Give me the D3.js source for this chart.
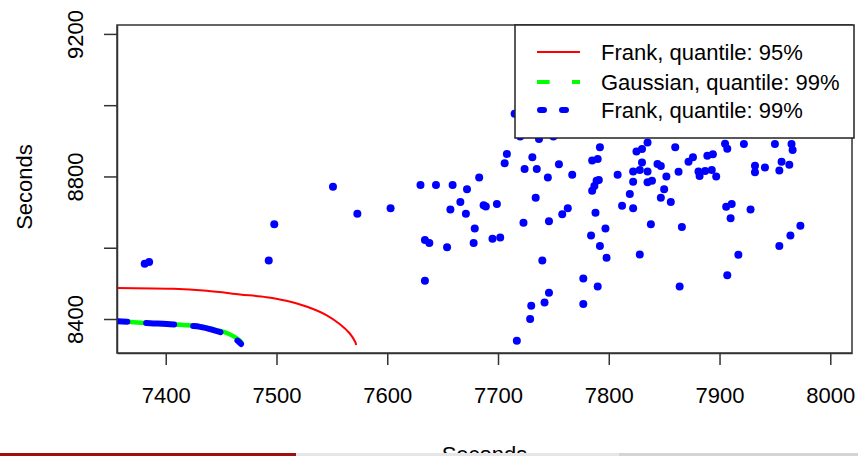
<!DOCTYPE html>
<html>
<head>
<meta charset="utf-8">
<script src="https://cdn.jsdelivr.net/npm/d3@7"></script>
<style>
  html, body { margin: 0; padding: 0; background: #fff; }
  svg { display: block; font-family: "Liberation Sans", Arial, sans-serif; }
</style>
</head>
<body>
<div id="chart"></div>
<script>
// scatter of observed pairs (seconds)
const obsX = [7381, 7385, 7493, 7498, 7551, 7573, 7603, 7630, 7644, 7659, 7672, 7683, 7666, 7657,
  7671, 7679, 7634, 7638, 7654, 7678, 7634, 7706, 7708, 7687, 7689, 7699, 7695, 7702, 7715, 7720,
  7737, 7750, 7731, 7724, 7735, 7745, 7755, 7767, 7792, 7785, 7790, 7789, 7791, 7787, 7785, 7808,
  7734, 7723, 7746, 7758, 7763, 7788, 7784, 7797, 7792, 7798, 7740, 7777, 7790, 7746, 7730, 7742,
  7777, 7729, 7717, 7835, 7825, 7830, 7830, 7822, 7828, 7835, 7822, 7835, 7839, 7844, 7847, 7819,
  7812, 7822, 7847, 7838, 7828, 7860, 7852, 7863, 7872, 7876, 7889, 7894, 7881, 7882, 7887, 7893,
  7897, 7905, 7907, 7922, 7932, 7932, 7941, 7950, 7965, 7966, 7956, 7954, 7963, 7850, 7856, 7866,
  7906, 7911, 7910, 7928, 7973, 7964, 7954, 7917, 7907, 7864];
const obsY = [8555, 8560, 8564, 8666, 8771, 8695, 8711, 8776, 8776, 8776, 8764, 8797, 8728, 8707,
  8695, 8654, 8622, 8613, 8601, 8613, 8507, 8837, 8863, 8719, 8716, 8723, 8625, 8629, 8976, 8912,
  8905, 8912, 8854, 8821, 8821, 8797, 8834, 8805, 8882, 8845, 8849, 8788, 8790, 8773, 8760, 8805,
  8740, 8670, 8674, 8694, 8711, 8698, 8634, 8654, 8605, 8572, 8564, 8514, 8491, 8474, 8437, 8446,
  8442, 8400, 8339, 8895, 8870, 8877, 8839, 8814, 8818, 8814, 8785, 8784, 8788, 8835, 8829, 8751,
  8718, 8711, 8740, 8666, 8581, 8882, 8800, 8813, 8841, 8854, 8858, 8862, 8814, 8801, 8815, 8818,
  8800, 8892, 8878, 8891, 8830, 8812, 8825, 8891, 8891, 8874, 8841, 8817, 8833, 8764, 8728, 8658,
  8715, 8723, 8683, 8707, 8662, 8634, 8605, 8580, 8523, 8491];

// quantile contours
const frank95X = [7340, 7356, 7407, 7437, 7467, 7491, 7509, 7527, 7545, 7557, 7566, 7571, 7572];
const frank95Y = [8488, 8487, 8485, 8479, 8469, 8461, 8451, 8435, 8411, 8386, 8360, 8336, 8327];
const gauss99X = [7340, 7357, 7371, 7386, 7401, 7416, 7431, 7443, 7453, 7461, 7467, 7469];
const gauss99Y = [8396, 8394, 8391, 8388, 8386, 8383, 8379, 8371, 8363, 8352, 8339, 8331];
const frank99X = [7340, 7357, 7371, 7386, 7401, 7416, 7431, 7443, 7452, 7460, 7466, 7468];
const frank99Y = [8396, 8394, 8391, 8388, 8386, 8382, 8378, 8369, 8360, 8349, 8336, 8330];

const xTicks = [7400, 7500, 7600, 7700, 7800, 7900, 8000];
const yTicks = [8400, 8600, 8800, 9000, 9200];
const yLabelled = [8400, 8800, 9200];
const legendLabels = ['Frank, quantile: 95%', 'Gaussian, quantile: 99%', 'Frank, quantile: 99%'];
const axisTitle = 'Seconds';

const W = 858, H = 456;
const plot = { left: 117, right: 852, top: 25, bottom: 353 };
const font = 22;

const svg = d3.select('#chart').append('svg')
  .attr('width', W)
  .attr('height', H)
  .attr('font-size', font);

const x = d3.scaleLinear().domain([7356, 8019.6]).range([plot.left, plot.right]);
const y = d3.scaleLinear().domain([8304.6, 9225]).range([plot.bottom, plot.top]);

svg.append('clipPath').attr('id', 'plot-clip')
  .append('rect')
    .attr('x', plot.left).attr('y', plot.top)
    .attr('width', plot.right - plot.left)
    .attr('height', plot.bottom - plot.top);

// axes
const xAxis = svg.append('g')
  .attr('transform', `translate(0,${plot.bottom})`)
  .call(d3.axisBottom(x).tickValues(xTicks).tickSize(12).tickSizeOuter(0).tickFormat(d3.format('d')));
xAxis.selectAll('text')
  .attr('y', 50).attr('dy', 0)
  .attr('fill', '#000')
  .attr('font-size', font);

const yAxis = svg.append('g')
  .attr('transform', `translate(${plot.left},0)`)
  .call(d3.axisLeft(y).tickValues(yTicks).tickSize(13).tickSizeOuter(0)
    .tickFormat(d => yLabelled.includes(d) ? d3.format('d')(d) : ''));
yAxis.selectAll('text')
  .attr('x', 0).attr('dy', 0)
  .attr('text-anchor', 'middle')
  .attr('transform', 'translate(-34,0) rotate(-90)')
  .attr('fill', '#000')
  .attr('font-size', font);

svg.selectAll('.domain, .tick line').attr('stroke', '#333').attr('stroke-width', 1.5);

svg.append('text')
  .attr('transform', `translate(32,187) rotate(-90)`)
  .attr('text-anchor', 'middle')
  .text(axisTitle);

svg.append('text')
  .attr('x', (plot.left + plot.right) / 2)
  .attr('y', 462)
  .attr('text-anchor', 'middle')
  .text(axisTitle);

// marks
const marks = svg.append('g').attr('clip-path', 'url(#plot-clip)');
const line = d3.line().x(d => x(d[0])).y(d => y(d[1])).curve(d3.curveCatmullRom);

marks.append('path')
  .datum(d3.zip(frank95X, frank95Y))
  .attr('d', line)
  .attr('fill', 'none')
  .attr('stroke', '#ff0000')
  .attr('stroke-width', 2);

marks.append('path')
  .datum(d3.zip(gauss99X, gauss99Y))
  .attr('d', line)
  .attr('fill', 'none')
  .attr('stroke', '#00ff00')
  .attr('stroke-width', 4.5);

marks.append('path')
  .datum(d3.zip(frank99X, frank99Y))
  .attr('d', line)
  .attr('fill', 'none')
  .attr('stroke', '#0000ff')
  .attr('stroke-width', 6)
  .attr('stroke-linecap', 'round')
  .attr('stroke-dasharray', '28,19');

marks.selectAll('circle')
  .data(d3.zip(obsX, obsY))
  .join('circle')
    .attr('cx', d => x(d[0]))
    .attr('cy', d => y(d[1]))
    .attr('r', 4)
    .attr('fill', '#0000ff');

// frame
svg.append('rect')
  .attr('x', plot.left).attr('y', plot.top)
  .attr('width', plot.right - plot.left)
  .attr('height', plot.bottom - plot.top)
  .attr('fill', 'none')
  .attr('stroke', '#333')
  .attr('stroke-width', 1.5);

// legend
const legend = svg.append('g');
legend.append('rect')
  .attr('x', 515).attr('y', 25)
  .attr('width', 339).attr('height', 113)
  .attr('fill', '#fff')
  .attr('stroke', '#222')
  .attr('stroke-width', 1.5);

const legendStyles = [
  { color: '#ff0000', width: 2, dash: null, cap: 'butt', x1: 537 },
  { color: '#00ff00', width: 4, dash: '12.6,22.4', cap: 'butt', x1: 537 },
  { color: '#0000ff', width: 6, dash: '4,18', cap: 'round', x1: 540 }
];
const rowY = [52, 82, 110];

const rows = legend.selectAll('g.row')
  .data(legendLabels)
  .join('g')
    .attr('class', 'row')
    .attr('transform', (d, i) => `translate(0,${rowY[i]})`);

rows.append('line')
  .attr('x1', (d, i) => legendStyles[i].x1).attr('x2', 580)
  .attr('stroke', (d, i) => legendStyles[i].color)
  .attr('stroke-width', (d, i) => legendStyles[i].width)
  .attr('stroke-dasharray', (d, i) => legendStyles[i].dash)
  .attr('stroke-linecap', (d, i) => legendStyles[i].cap);

rows.append('text')
  .attr('x', 601)
  .attr('dy', '0.35em')
  .text(d => d);

// window strip at the bottom of the screenshot
svg.append('rect').attr('x', 0).attr('y', 453).attr('width', 296).attr('height', 3).attr('fill', '#9e1010');
svg.append('rect').attr('x', 296).attr('y', 453).attr('width', 323).attr('height', 3).attr('fill', '#e6e6e6');
svg.append('rect').attr('x', 619).attr('y', 453).attr('width', 239).attr('height', 3).attr('fill', '#d4d4d4');
</script>
</body>
</html>
